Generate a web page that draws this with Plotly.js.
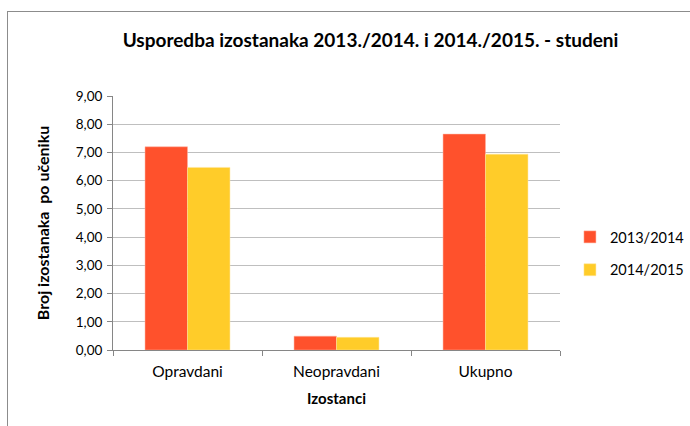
<!DOCTYPE html>
<html>
<head>
<meta charset="utf-8">
<script src="https://cdn.plot.ly/plotly-3.0.1.min.js"></script>
<style>
html,body{margin:0;padding:0;background:#fff;}
#wrap{position:relative;width:690px;height:426px;overflow:hidden;}
#chart{position:absolute;left:0;top:0;width:690px;height:426px;}
#frame{position:absolute;left:7px;top:11px;width:700px;height:430px;border-left:1px solid #8c8c8c;border-top:1px solid #8c8c8c;pointer-events:none;}
</style>
</head>
<body>
<div id="wrap"><div id="chart"></div><div id="frame"></div></div>
<script>
const categories = ["Opravdani", "Neopravdani", "Ukupno"];
const seriesNames = ["2013/2014", "2014/2015"];
const values2013 = [7.20, 0.49, 7.65];
const values2014 = [6.47, 0.45, 6.94];
const yTicks = [0, 1, 2, 3, 4, 5, 6, 7, 8, 9];

const font = "Lato, 'Open Sans', 'Liberation Sans', sans-serif";

const traces = [
  {type: "bar", name: seriesNames[0], x: categories, y: values2013, legendgroup: "a",
   marker: {color: "#FF512C", line: {color: "#FFB3A0", width: 0.5}}},
  {type: "bar", name: seriesNames[1], x: categories, y: values2014, legendgroup: "b",
   marker: {color: "#FFCC29", line: {color: "#FFE7A0", width: 0.5}}}
];

const layout = {
  width: 690, height: 426,
  margin: {l: 113, r: 130, t: 96, b: 76},
  paper_bgcolor: "#fff", plot_bgcolor: "#fff",
  separators: ",.",
  font: {family: font, color: "#000", size: 13},
  title: {text: "<b>Usporedba izostanaka 2013./2014. i 2014./2015. - studeni</b>",
          font: {family: font, size: 19, color: "#000"},
          x: 0.537, xanchor: "center", y: 0.905, yanchor: "middle"},
  barmode: "group", bargap: 0.43, bargroupgap: 0,
  xaxis: {
    type: "category",
    title: {text: "<b>Izostanci</b>", font: {family: font, size: 15}, standoff: 14},
    showline: true, linecolor: "#868686", linewidth: 1,
    ticks: "outside", tickson: "boundaries", ticklen: 5, tickcolor: "#868686",
    ticklabelstandoff: 7,
    tickfont: {family: font, size: 15.5}, showgrid: false
  },
  yaxis: {
    range: [0, 9], tickvals: yTicks, tickformat: ".2f",
    title: {text: "<b>Broj izostanaka  po učeniku</b>", font: {family: font, size: 16}, standoff: 22},
    showline: true, linecolor: "#868686", linewidth: 1,
    ticks: "outside", ticklen: 5, tickcolor: "#868686",
    ticklabelstandoff: 2,
    gridcolor: "#BFBFBF", gridwidth: 1,
    tickfont: {family: font, size: 13.5}, zeroline: false
  },
  legend: {xref: "container", yref: "container", x: 0.826, xanchor: "left", y: 0.405, yanchor: "middle",
           font: {family: font, size: 14.5}, tracegroupgap: 11, itemwidth: 30}
};

Plotly.newPlot("chart", traces, layout, {displayModeBar: false, staticPlot: true});
</script>
</body>
</html>
